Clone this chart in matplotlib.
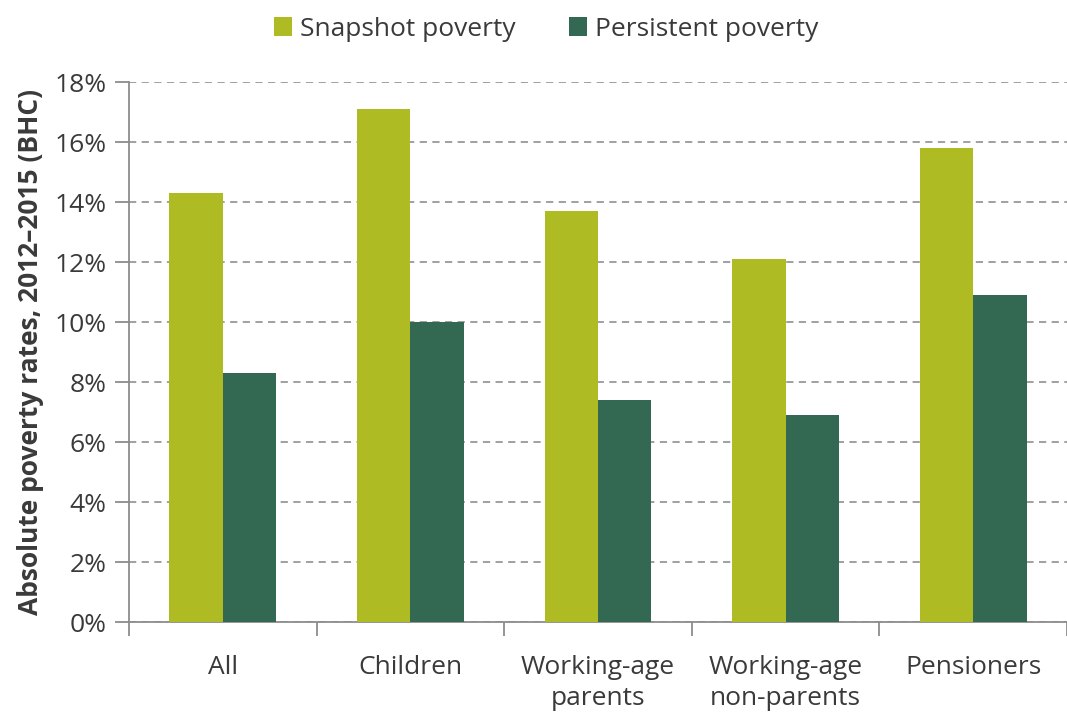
import matplotlib.pyplot as plt
import numpy as np

categories = ["All", "Children", "Working-age\nparents", "Working-age\nnon-parents", "Pensioners"]
snapshot = [14.3, 17.1, 13.7, 12.1, 15.8]
persistent = [8.3, 10.0, 7.4, 6.9, 10.9]
yticks = [0, 2, 4, 6, 8, 10, 12, 14, 16, 18]

snap_color = "#aebb22"
pers_color = "#336852"
grey = "#8c8c8c"
text_color = "#3a3a3a"

plt.rcParams['font.family'] = ['Open Sans', 'DejaVu Sans']

fig = plt.figure(figsize=(10.67, 7.12), dpi=100)
ax = fig.add_axes([129 / 1067, 1 - 622 / 712, (1067 - 129) / 1067, 540 / 712])

ind = np.arange(len(categories))
width = 0.285
ax.bar(ind - width / 2, snapshot, width, color=snap_color, label="Snapshot poverty", zorder=3)
ax.bar(ind + width / 2, persistent, width, color=pers_color, label="Persistent poverty", zorder=3)

ax.set_ylim(0, 18)
# category slots are ~189.7 px wide; the last one runs past the right edge
ax.set_xlim(-0.5, -0.5 + (1067 - 129) / 189.7)
ax.set_yticks(yticks)
ax.set_yticklabels([f"{v}%" for v in yticks], color=text_color, fontsize=19)
ax.yaxis.grid(True, linestyle=(0, (4, 3)), color="#999999", linewidth=1.3, zorder=0)

# category labels between boundary ticks
ax.set_xticks(np.arange(len(categories) + 1) - 0.5)
ax.set_xticklabels([])
ax.set_xticks(ind, minor=True)
ax.set_xticklabels(categories, minor=True, color=text_color, fontsize=19, linespacing=1.3)
ax.tick_params(axis='x', which='minor', length=0, pad=24)
ax.tick_params(axis='x', which='major', length=10, color=grey, width=1.3)
ax.tick_params(axis='y', length=10, color=grey, width=1.3, pad=6)

for s in ['top', 'right']:
    ax.spines[s].set_visible(False)
for s in ['left', 'bottom']:
    ax.spines[s].set_color(grey)
    ax.spines[s].set_linewidth(1.3)

ax.set_ylabel("Absolute poverty rates, 2012–2015 (BHC)", fontsize=19, fontweight='bold',
              color=text_color, labelpad=8)

fig.legend(loc='upper center', bbox_to_anchor=(0.512, 1.01), ncol=2, frameon=False,
           fontsize=19, handlelength=0.7, handleheight=0.7, columnspacing=2.0,
           handletextpad=0.3, labelcolor=text_color)

plt.savefig("out.png", dpi=100)
plt.close()
